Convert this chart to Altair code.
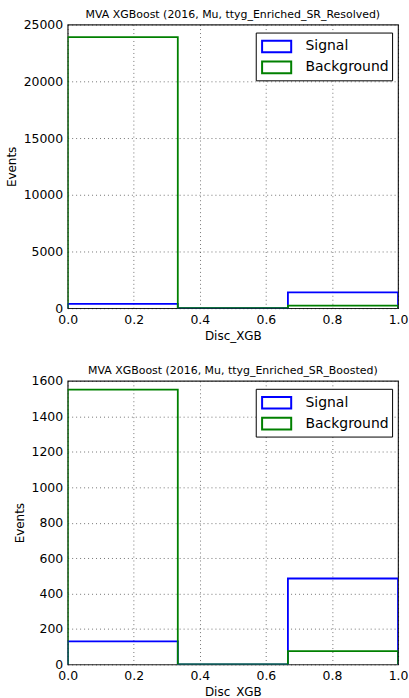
import altair as alt
import pandas as pd

# Histogram bin edges of the XGBoost discriminant and per-bin event counts
bin_edges = [0.0, 1 / 3, 2 / 3, 1.0]
series_names = ["Signal", "Background"]
series_colors = ["#0000ff", "#008000"]

resolved_signal = [380, 0, 1390]
resolved_background = [23900, 5, 230]
boosted_signal = [130, 0, 485]
boosted_background = [1550, 0, 75]

FONT = "DejaVu Sans"


def step_rows(counts, name):
    """Outline of a step histogram: up from zero, across each bin, back to zero."""
    pts = [(bin_edges[0], 0)]
    for i, c in enumerate(counts):
        pts.append((bin_edges[i], c))
        pts.append((bin_edges[i + 1], c))
    pts.append((bin_edges[-1], 0))
    return [{"disc": x, "events": y, "series": name, "k": k} for k, (x, y) in enumerate(pts)]


def panel(title, signal, background, ymax, ystep):
    df = pd.DataFrame(step_rows(signal, "Signal") + step_rows(background, "Background"))
    legend = alt.Legend(
        title=None,
        orient="none",
        legendX=189,
        legendY=8,
        labelFont=FONT,
        labelFontSize=14,
        labelColor="black",
        symbolType="M-1.5,-0.6L1.5,-0.6L1.5,0.6L-1.5,0.6Z",
        symbolSize=380,
        symbolStrokeWidth=2,
        symbolFillColor="transparent",
        strokeColor="black",
        fillColor="white",
        padding=3,
        rowPadding=0,
        labelOffset=18,
        symbolOffset=7,
    )
    return (
        alt.Chart(
            df,
            title=alt.TitleParams(title, font=FONT, fontSize=11, fontWeight="normal", color="black", offset=-1),
        )
        .mark_line(strokeWidth=1.8, clip=True)
        .encode(
            x=alt.X(
                "disc:Q",
                scale=alt.Scale(domain=[0, 1], nice=False),
                axis=alt.Axis(title="Disc_XGB", values=[0, 0.2, 0.4, 0.6, 0.8, 1.0], format=".1f"),
            ),
            y=alt.Y(
                "events:Q",
                scale=alt.Scale(domain=[0, ymax], nice=False),
                axis=alt.Axis(title="Events", values=list(range(0, ymax + 1, ystep)), format="d"),
            ),
            color=alt.Color(
                "series:N",
                scale=alt.Scale(domain=series_names, range=series_colors),
                legend=legend,
            ),
            detail="series:N",
            order="k:Q",
        )
        .properties(width=332, height=285)
    )


top = panel("MVA XGBoost (2016, Mu, ttyg_Enriched_SR_Resolved)",
            resolved_signal, resolved_background, 25000, 5000)
bottom = panel("MVA XGBoost (2016, Mu, ttyg_Enriched_SR_Boosted)",
               boosted_signal, boosted_background, 1600, 200)

chart = (
    alt.vconcat(top, bottom, spacing=21)
    .resolve_scale(color="independent")
    .resolve_legend(color="independent")
    .properties(padding={"left": 4, "top": 6, "right": 0, "bottom": 0}, background="white")
    .configure_view(stroke="#222222", strokeWidth=1.2)
    .configure_axis(
        labelFont=FONT,
        labelFontSize=12.5,
        labelColor="black",
        labelFlush=False,
        titleFont=FONT,
        titleFontSize=12,
        titleFontWeight="normal",
        titleColor="black",
        domain=False,
        ticks=False,
        labelPadding=5,
        grid=True,
        gridColor="black",
        gridOpacity=0.55,
        gridDash=[1, 3],
        gridWidth=1,
    )
    .configure_axisY(titlePadding=5)
    .configure_axisX(titlePadding=5)
)

chart.save("out.html", embed_options={"renderer": "svg", "actions": False})
